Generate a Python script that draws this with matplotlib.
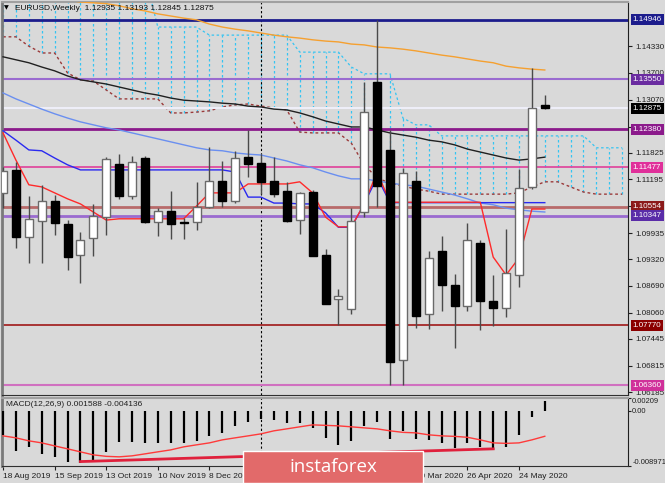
import numpy as np
import matplotlib.pyplot as plt
import matplotlib.transforms as mtransforms
from matplotlib.patches import Rectangle

plt.rcParams['font.family'] = ['Liberation Sans', 'DejaVu Sans']

# weekly EURUSD candles, 18 Aug 2019 .. 7 Jun 2020
opens = [1.1088, 1.1142, 1.0984, 1.1023, 1.1070, 1.1014, 1.0941, 1.0982, 1.1031, 1.1156,
         1.1080, 1.1170, 1.1019, 1.1045, 1.1020, 1.1020, 1.1055, 1.1115, 1.1068, 1.1172,
         1.1158, 1.1116, 1.1092, 1.1025, 1.1090, 1.0942, 1.0838, 1.0814, 1.1043, 1.1349,
         1.1189, 1.0695, 1.1117, 1.0802, 1.0951, 1.0871, 1.0821, 1.0970, 1.0833, 1.0817,
         1.0895, 1.1102, 1.12935]
highs = [1.1149, 1.1160, 1.1080, 1.1106, 1.1083, 1.1024, 1.0997, 1.1062, 1.1172, 1.1179,
         1.1174, 1.1175, 1.1053, 1.1092, 1.1030, 1.1113, 1.1196, 1.1164, 1.1186, 1.1236,
         1.1180, 1.1172, 1.1114, 1.1090, 1.1095, 1.0956, 1.0863, 1.1052, 1.1349, 1.1495,
         1.1236, 1.1147, 1.1140, 1.0952, 1.0987, 1.0897, 1.1017, 1.0977, 1.0895, 1.1004,
         1.1144, 1.1382, 1.13193]
lows = [1.1053, 1.0958, 1.0923, 1.0923, 1.0990, 1.0906, 1.0876, 1.0940, 1.0989, 1.1073,
        1.1073, 1.1017, 1.0987, 1.0980, 1.0980, 1.1000, 1.1052, 1.1054, 1.1064, 1.1125,
        1.1086, 1.1078, 1.1020, 1.0991, 1.0940, 1.0827, 1.0778, 1.0803, 1.1031, 1.1055,
        1.0636, 1.0636, 1.0771, 1.0768, 1.0810, 1.0723, 1.0810, 1.0765, 1.0775, 1.0796,
        1.0867, 1.1097, 1.12845]
closes = [1.1139, 1.0984, 1.1026, 1.1069, 1.1016, 1.0936, 1.0976, 1.1034, 1.1168, 1.1080,
          1.1160, 1.1019, 1.1045, 1.1015, 1.1018, 1.1055, 1.1116, 1.1068, 1.1171, 1.1156,
          1.1114, 1.1086, 1.1022, 1.1088, 1.0940, 1.0827, 1.0846, 1.1022, 1.1278, 1.1103,
          1.0690, 1.1135, 1.0799, 1.0934, 1.0871, 1.0823, 1.0977, 1.0834, 1.0817, 1.0899,
          1.1099, 1.1288, 1.12875]

# indicators
tenkan = [1.1229, 1.1165, 1.1107, 1.1102, 1.1088, 1.1074, 1.1062, 1.1043, 1.1024, 1.1027,
          1.1027, 1.1027, 1.1027, 1.1027, 1.1027, 1.1057, 1.1088, 1.1088, 1.1088, 1.1109,
          1.1109, 1.1109, 1.1109, 1.1114, 1.1088, 1.1031, 1.1008, 1.1008, 1.1062, 1.1137,
          1.1066, 1.1066, 1.1066, 1.1066, 1.1066, 1.1066, 1.1066, 1.1066, 1.0937, 1.0895,
          1.0935, 1.1050, 1.1050]
kijun = [1.1234, 1.1212, 1.1189, 1.1187, 1.1170, 1.1154, 1.1142, 1.1142, 1.1142, 1.1142,
         1.1142, 1.1142, 1.1142, 1.1142, 1.1142, 1.1142, 1.1142, 1.1142, 1.1137, 1.1078,
         1.1078, 1.1064, 1.1064, 1.1062, 1.1062, 1.1041, 1.1007, 1.1007, 1.1062, 1.1125,
         1.1065, 1.1065, 1.1065, 1.1065, 1.1065, 1.1065, 1.1065, 1.1065, 1.1065, 1.1065,
         1.1065, 1.1065, 1.1065]
ma_orange = [np.nan, np.nan, np.nan, np.nan, np.nan, 1.1541, 1.1537, 1.1535, 1.1533, 1.1528,
             1.1521, 1.1516, 1.1509, 1.1504, 1.1499, 1.1495, 1.1485, 1.1478, 1.1473, 1.1469,
             1.1464, 1.1459, 1.1455, 1.1452, 1.1448, 1.1445, 1.1443, 1.1438, 1.1436, 1.1431,
             1.1429, 1.1426, 1.1422, 1.1417, 1.1412, 1.1408, 1.1403, 1.1398, 1.1394, 1.1386,
             1.1382, 1.1379, 1.1377]
ma_black = [1.1408, 1.1401, 1.1394, 1.1384, 1.1375, 1.1363, 1.1354, 1.1349, 1.1344, 1.1337,
            1.1330, 1.1323, 1.1318, 1.1311, 1.1306, 1.1304, 1.1302, 1.1299, 1.1297, 1.1292,
            1.1290, 1.1285, 1.1283, 1.1276, 1.1267, 1.1257, 1.1250, 1.1243, 1.1243, 1.1236,
            1.1229, 1.1224, 1.1219, 1.1212, 1.1208, 1.1201, 1.1191, 1.1184, 1.1177, 1.1170,
            1.1165, 1.1168, 1.1172]
ma_blue = [1.1323, 1.1309, 1.1297, 1.1285, 1.1274, 1.1264, 1.1255, 1.1248, 1.1241, 1.1236,
           1.1229, 1.1222, 1.1215, 1.1208, 1.1201, 1.1194, 1.1189, 1.1187, 1.1182, 1.1179,
           1.1177, 1.1170, 1.1163, 1.1154, 1.1147, 1.1137, 1.1128, 1.1121, 1.1121, 1.1116,
           1.1111, 1.1107, 1.1104, 1.1097, 1.1090, 1.1083, 1.1074, 1.1064, 1.1060, 1.1052,
           1.1048, 1.1045, 1.1043]
# ichimoku cloud (shifted forward, runs past the last candle)
kumo_top = [1.1600, 1.1600, 1.1600, 1.1600, 1.1600, 1.1600, 1.1600, 1.1600, 1.1600, 1.1600,
            1.1600, 1.1600, 1.1478, 1.1478, 1.1478, 1.1478, 1.1459, 1.1459, 1.1459, 1.1459,
            1.1459, 1.1459, 1.1459, 1.1419, 1.1419, 1.1419, 1.1419, 1.1384, 1.1368, 1.1368,
            1.1368, 1.1264, 1.1248, 1.1248, 1.1222, 1.1222, 1.1222, 1.1222, 1.1222, 1.1222,
            1.1222, 1.1222, 1.1222, 1.1222, 1.1222, 1.1222, 1.1194, 1.1194, 1.1194]
kumo_bot = [1.1455, 1.1455, 1.1433, 1.1417, 1.1417, 1.1370, 1.1354, 1.1351, 1.1330, 1.1309,
            1.1309, 1.1309, 1.1309, 1.1276, 1.1276, 1.1278, 1.1281, 1.1290, 1.1295, 1.1297,
            1.1292, 1.1288, 1.1283, 1.1231, 1.1229, 1.1229, 1.1229, 1.1205, 1.1154, 1.1123,
            1.1111, 1.1104, 1.1097, 1.1092, 1.1085, 1.1085, 1.1085, 1.1085, 1.1085, 1.1085,
            1.1088, 1.1102, 1.1114, 1.1114, 1.1102, 1.1090, 1.1085, 1.1085, 1.1085]

macd_hist = [-0.00390, -0.00651, -0.00586, -0.00700, -0.00748, -0.00830, -0.00846, -0.00814,
             -0.00667, -0.00504, -0.00504, -0.00521, -0.00521, -0.00521, -0.00521, -0.00488,
             -0.00407, -0.00358, -0.00244, -0.00179, -0.00130, -0.00146, -0.00195, -0.00195,
             -0.00277, -0.00439, -0.00553, -0.00488, -0.00244, -0.00179, -0.00456, -0.00325,
             -0.00456, -0.00472, -0.00521, -0.00602, -0.00521, -0.00586, -0.00635, -0.00586,
             -0.00390, -0.00098, 0.001588]
macd_signal = [-0.00407, -0.00439, -0.00488, -0.00521, -0.00570, -0.00618, -0.00667, -0.00716,
               -0.00740, -0.00748, -0.00732, -0.00700, -0.00667, -0.00635, -0.00586, -0.00553,
               -0.00521, -0.00472, -0.00439, -0.00407, -0.00374, -0.00325, -0.00293, -0.00260,
               -0.00228, -0.00236, -0.00244, -0.00260, -0.00277, -0.00293, -0.00325, -0.00350,
               -0.00358, -0.00390, -0.00407, -0.00415, -0.00430, -0.00472, -0.00521, -0.00529,
               -0.00521, -0.00472, -0.004136]
div_x = [6, 38]
div_y = [-0.00825, -0.00618]

date_pos = [0, 4, 8, 12, 16, 20, 24, 28, 32, 36, 40]
date_labels = ['18 Aug 2019', '15 Sep 2019', '13 Oct 2019', '10 Nov 2019', '8 Dec 2019',
               '5 Jan 2020', '2 Feb 2020', '1 Mar 2020', '29 Mar 2020', '26 Apr 2020',
               '24 May 2020']
price_ticks = [1.14330, 1.13700, 1.13070, 1.12440, 1.11825, 1.11195, 1.10565, 1.09935,
               1.09320, 1.08690, 1.08060, 1.07445, 1.06815, 1.06185]

levels = [1.14946, 1.13550, 1.12875, 1.12380, 1.11477, 1.10554, 1.10347, 1.07770, 1.06360]
level_line = ['#1c1c8c', '#9a6bd0', '#eeeef8', '#8b1a8b', '#e0409a', '#b86a6a', '#9a6bd0',
              '#a01818', '#d070c0']
level_lw = [2, 1.5, 1.5, 2, 1.2, 2, 2, 1.2, 1.5]
level_box = ['#1c1c8c', '#6a2ca0', '#000000', '#8b1a8b', '#e0309a', '#8b1a1a', '#5a2ca8',
             '#8b0000', '#d0309a']

bg = '#d9d9d9'
W, H = 665, 483
fig = plt.figure(figsize=(W / 100, H / 100), dpi=100)
fig.patch.set_facecolor(bg)
ax = fig.add_axes([2 / W, 1 - 395 / H, 626 / W, 393 / H])
ax2 = fig.add_axes([2 / W, 1 - 466 / H, 626 / W, 68 / H])
for a in (ax, ax2):
    a.set_facecolor(bg)
    a.set_xlim(-0.08, 48.45)
    a.spines['left'].set_color('#7a7a7a')
    a.spines['left'].set_linewidth(2)
    a.spines['top'].set_color('#a0a0a0')
    a.spines['top'].set_linewidth(1.5)
    a.spines['right'].set_color('#202020')
    a.spines['bottom'].set_color('#303030')
    a.yaxis.tick_right()
    a.axvline(20, color='black', ls=(0, (2, 2)), lw=0.8, zorder=2)

ax.set_ylim(1.06126, 1.15369)

x = np.arange(len(opens))
o = np.array(opens)
c = np.array(closes)
up = c >= o

# cloud hatch
kx = np.arange(len(kumo_top))
ax.vlines(kx, kumo_bot, kumo_top, colors='#35c4f2', linestyles=(0, (2, 2)), lw=0.9, zorder=1)
ax.plot(kx, kumo_top, color='#35c4f2', ls=(0, (2, 2)), lw=0.9, zorder=1)
ax.plot(kx, kumo_bot, color='#9b3a3a', ls=(0, (2, 2)), lw=1, zorder=1.5)

for lv, lc, lw in zip(levels, level_line, level_lw):
    ax.axhline(lv, color=lc, lw=lw, zorder=2)

ax.plot(x, ma_orange, color='#f5a030', lw=1, zorder=3)
ax.plot(x, ma_black, color='#202020', lw=1, zorder=3)
ax.plot(x, ma_blue, color='#6a8ff0', lw=1, zorder=3)
ax.plot(x, kijun, color='#2a2af0', lw=1, zorder=3)
ax.plot(x, tenkan, color='#ff2a2a', lw=1, zorder=3)

# candles
ax.vlines(x, lows, highs, color='#4a4a4a', lw=1, zorder=5)
ax.bar(x[up], (c - o)[up], bottom=o[up], width=0.62, color='white',
       edgecolor='#6a6a6a', lw=1, zorder=6)
ax.bar(x[~up], (o - c)[~up], bottom=c[~up], width=0.62, color='black',
       edgecolor='black', lw=1, zorder=6)

ax.set_xticks([])
ax.set_yticks(price_ticks)
ax.set_yticklabels(['%.5f' % t for t in price_ticks])
ax.tick_params(axis='y', labelsize=5.8, length=3, pad=2, colors='#202020')

trans = mtransforms.blended_transform_factory(ax.transAxes, ax.transData)
for lv, bc in zip(levels, level_box):
    ax.text(1.0075, lv, '%.5f' % lv, transform=trans, ha='left', va='center', color='white',
            fontsize=5.8, clip_on=False, zorder=10,
            bbox=dict(boxstyle='square,pad=0.25', fc=bc, ec='none'))

# MACD panel
ax2.vlines(x, 0, macd_hist, color='black', lw=1.6, zorder=3)
ax2.plot(x, macd_signal, color='#ff3a3a', lw=1, zorder=4)
ax2.plot(div_x, div_y, color='#e0203c', lw=2, zorder=4)
ax2.set_ylim(-0.008971, 0.00209)
ax2.set_yticks([0.00209, 0.0, -0.008971])
ax2.set_yticklabels(['0.00209', '0.00', '-0.008971'])
ax2.tick_params(axis='y', labelsize=5.5, length=2, pad=1, colors='#202020')
labs = ax2.get_yticklabels()
labs[0].set_va('top')
labs[2].set_va('bottom')
ax2.set_xticks(date_pos)
ax2.set_xticklabels(date_labels, ha='left')
ax2.tick_params(axis='x', labelsize=6, length=3, pad=2, colors='#202020')

fig.text(4 / W, 1 - 8 / H, '\u25bc', fontsize=4.5, family='DejaVu Sans', va='center')
fig.text(15 / W, 1 - 8 / H, 'EURUSD,Weekly  1.12935 1.13193 1.12845 1.12875',
         fontsize=6, va='center', color='#101010')
fig.text(6 / W, 1 - 404 / H, 'MACD(12,26,9) 0.001588 -0.004136', fontsize=6,
         va='center', color='#202020')

# watermark banner
fig.patches.append(Rectangle((243 / W, 0.5 / H), 180 / W, 32 / H, transform=fig.transFigure,
                             fc='#e26a6a', ec='white', lw=1, zorder=20))
fig.text(333 / W, 1 - 467 / H, 'instaforex', color='white', fontsize=13.5,
         family='Open Sans', ha='center', va='center', zorder=21)

fig.savefig('out.png', dpi=100, facecolor=bg)
